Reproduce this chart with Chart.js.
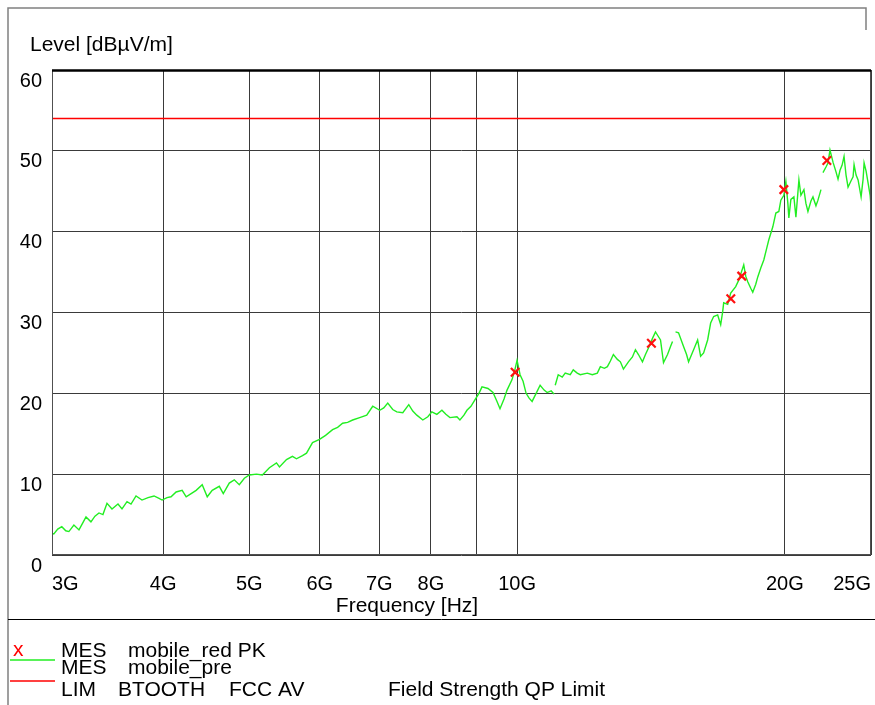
<!DOCTYPE html>
<html><head><meta charset="utf-8">
<script src="https://cdn.jsdelivr.net/npm/chart.js@4.4.1/dist/chart.umd.min.js"></script>
<style>html,body{margin:0;padding:0;background:#fff}#wrap{width:875px;height:705px;position:relative}</style>
</head><body><div id="wrap"><canvas id="c" width="875" height="705"></canvas></div>
<script>
// ---- data (frequency in GHz, level in dBµV/m) ----
const traceFreqGHz = [
2.99,3.014,3.045,3.077,3.109,3.134,3.175,3.217,3.25,3.276,3.318,3.353,3.388,3.423,3.459,3.504,3.559,3.596,3.643,3.681,
3.729,3.787,3.847,3.907,3.958,3.989,4.041,4.083,4.137,4.202,4.246,4.301,4.357,4.426,4.484,4.542,4.626,4.674,4.747,4.809,
4.872,4.936,5.0,5.093,5.172,5.267,5.364,5.406,5.505,5.591,5.649,5.738,5.798,5.889,5.997,6.091,6.203,6.284,6.366,6.449,
6.534,6.653,6.776,6.882,7.008,7.081,7.155,7.248,7.324,7.439,7.555,7.634,7.714,7.835,7.937,8.02,8.125,8.232,8.317,8.404,
8.558,8.625,8.715,8.783,8.875,8.966,9.061,9.132,9.275,9.396,9.494,9.568,9.668,9.744,9.871,9.948,10.0,10.078,10.157,10.237,
10.317,10.397,10.506,10.615,10.726,10.81,10.923,11.009,11.02,
11.038,11.124,11.24,11.328,11.476,11.566,11.686,11.778,11.994,12.151,12.31,12.406,12.536,12.634,12.733,12.832,12.966,13.067,13.17,13.341,
13.481,13.586,13.692,13.835,13.943,14.052,14.199,14.31,14.422,14.497,14.61,14.763,14.878,14.955,15.01,
15.072,15.19,15.388,15.509,15.589,15.794,15.959,16.083,16.209,16.378,16.506,16.636,16.809,16.941,17.029,17.073,17.251,17.386,17.613,17.751,
17.983,18.076,18.17,18.312,18.408,18.551,18.648,18.794,18.941,19.089,19.189,19.389,19.541,19.694,19.796,19.951,20.055,20.159,20.211,20.317,
20.476,20.583,20.744,20.852,21.015,21.124,21.234,21.401,21.512,21.68,21.793,21.963,22.02,
22.077,22.25,22.365,22.482,22.658,22.835,22.954,23.073,23.194,23.315,23.436,23.558,23.742,23.866,23.928,24.053,24.178,24.367,24.494,24.557,
24.685,24.814,24.943,25.0
];
const traceLevel = [
2.7,2.6,3.2,3.5,3.0,2.9,3.7,3.1,4.0,4.7,4.1,4.8,5.2,5.0,6.4,5.7,6.3,5.7,6.6,6.3,
7.3,6.8,7.1,7.3,7.0,6.8,7.1,7.2,7.8,8.0,7.2,7.6,8.0,8.7,7.2,8.0,8.5,7.6,8.9,9.3,
8.7,9.5,9.9,10.0,9.9,10.8,11.4,10.9,11.8,12.2,11.9,12.3,12.6,13.9,14.3,14.8,15.5,15.8,16.3,16.4,
16.7,17.0,17.3,18.4,17.9,18.2,18.8,18.0,17.7,17.6,18.6,17.8,17.3,16.7,17.1,17.7,17.4,17.9,17.4,17.0,
17.1,16.7,17.3,17.9,18.4,19.2,20.0,20.8,20.6,20.1,19.0,18.1,19.3,20.4,21.7,23.0,24.1,22.3,21.5,20.0,
19.4,19.0,20.0,21.0,20.4,20.1,20.3,19.9,null,
21.0,22.3,22.0,22.5,22.3,22.9,22.5,22.3,22.5,22.3,22.5,23.3,23.1,23.3,24.0,24.8,24.2,23.9,23.0,23.9,
24.5,25.4,24.8,23.9,24.8,25.6,26.8,27.6,27.0,26.6,23.8,24.8,25.8,26.4,null,
27.6,27.5,25.8,24.8,23.9,25.4,26.6,24.6,25.0,26.6,28.7,29.5,29.7,28.5,30.1,31.2,31.0,32.4,33.2,34.0,
35.9,34.5,33.8,33.0,32.5,33.5,34.4,35.5,36.5,38.0,39.0,40.6,42.3,42.5,43.9,44.5,46.2,43.5,41.7,44.0,
44.3,41.8,46.4,44.5,45.2,43.5,42.5,43.8,44.3,43.2,43.9,45.2,null,
47.3,48.0,48.5,50.1,48.6,47.4,46.5,47.6,48.2,49.3,47.0,45.5,46.3,46.8,48.3,47.0,46.4,44.3,46.5,48.5,
47.5,46.0,44.5,43.1
];
const peakFreqGHz = [9.95, 14.16, 17.39, 17.89, 19.95, 22.30];
const peakLevel   = [22.6, 26.2, 31.7, 34.5, 45.2, 48.8];
const limitFreqGHz = [3, 25];
const limitLevel   = [54, 54];
const xTickValues = [3, 4, 5, 6, 7, 8, 9, 10, 20, 25];
const xTickLabels = ['3G', '4G', '5G', '6G', '7G', '8G', '', '10G', '20G', '25G'];
const yTickValues = [0, 10, 20, 30, 40, 50, 60];
const yAxisTitle = 'Level [dBµV/m]';
const xAxisTitle = 'Frequency [Hz]';
const legendRows = [
  ['MES', 'mobile_red PK'],
  ['MES', 'mobile_pre'],
  ['LIM', 'BTOOTH', 'FCC AV', 'Field Strength QP Limit']
];

const FONT = '"Liberation Sans", Arial, sans-serif';
const toXY = (xs, ys) => xs.map((x, i) => ({x: x, y: ys[i]}));

const decor = {
  id: 'decor',
  beforeDraw(chart) {
    const ctx = chart.ctx;
    ctx.save();
    ctx.fillStyle = '#fff';
    ctx.fillRect(0, 0, chart.width, chart.height);
    ctx.restore();
  },
  afterDraw(chart) {
    const ctx = chart.ctx;
    const a = chart.chartArea;
    ctx.save();
    // outer frame
    ctx.strokeStyle = '#808080';
    ctx.lineWidth = 1.5;
    ctx.beginPath();
    ctx.moveTo(8, 705); ctx.lineTo(8, 8); ctx.lineTo(866, 8); ctx.lineTo(866, 30);
    ctx.stroke();
    ctx.strokeStyle = '#000';
    ctx.lineWidth = 1;
    ctx.beginPath();
    ctx.moveTo(8, 619.5); ctx.lineTo(875, 619.5);
    ctx.stroke();
    // plot frame
    ctx.strokeStyle = '#505050';
    ctx.lineWidth = 1;
    ctx.strokeRect(a.left + 0.5, a.top + 0.5, a.right - a.left - 1, a.bottom - a.top - 1);
    ctx.strokeStyle = '#000';
    ctx.lineWidth = 2.5;
    ctx.beginPath();
    ctx.moveTo(a.left, a.top + 0.5); ctx.lineTo(a.right, a.top + 0.5);
    ctx.stroke();
    // texts
    ctx.fillStyle = '#000';
    ctx.font = '21px ' + FONT;
    ctx.textBaseline = 'middle';
    ctx.textAlign = 'left';
    ctx.fillText(yAxisTitle, 30, 45);
    ctx.textAlign = 'center';
    ctx.fillText(xAxisTitle, 407, 606);
    // legend
    ctx.textAlign = 'left';
    const ys = [651, 668, 690];
    const cols = [[61, 128], [61, 128], [61, 118, 229, 388]];
    legendRows.forEach((row, r) => {
      row.forEach((t, k) => ctx.fillText(t, cols[r][k], ys[r]));
    });
    ctx.fillStyle = '#ff0000';
    ctx.fillText('x', 13, 650);
    ctx.lineWidth = 1.5;
    ctx.strokeStyle = '#22ee22';
    ctx.beginPath(); ctx.moveTo(10, 660); ctx.lineTo(55, 660); ctx.stroke();
    ctx.strokeStyle = '#ff0000';
    ctx.beginPath(); ctx.moveTo(10, 681); ctx.lineTo(55, 681); ctx.stroke();
    ctx.restore();
  }
};

new Chart(document.getElementById('c'), {
  type: 'line',
  data: {
    datasets: [
      { label: 'LIM BTOOTH FCC AV', data: toXY(limitFreqGHz, limitLevel), borderColor: '#ff0000', borderWidth: 1.3, pointRadius: 0, order: 3 },
      { label: 'MES mobile_pre', data: toXY(traceFreqGHz, traceLevel), borderColor: '#22ee22', borderWidth: 1.4, pointRadius: 0, spanGaps: false, tension: 0, order: 2 },
      { label: 'MES mobile_red PK', data: toXY(peakFreqGHz, peakLevel), showLine: false, pointStyle: 'crossRot', pointRadius: 6, borderColor: '#ff1010', borderWidth: 2.2, pointHoverRadius: 6, order: 1 }
    ]
  },
  options: {
    responsive: false, animation: false, devicePixelRatio: 1,
    layout: { autoPadding: false, padding: { left: 0, right: 4, top: 70, bottom: 85 } },
    plugins: { legend: { display: false }, tooltip: { enabled: false }, title: { display: false } },
    scales: {
      x: {
        type: 'logarithmic', min: 3, max: 25,
        afterBuildTicks: s => { s.ticks = xTickValues.map(v => ({ value: v })); },
        afterFit: s => { s.height = 65; s.paddingLeft = 0; s.paddingRight = 0; },
        grid: { color: '#3a3a3a', lineWidth: 1, drawTicks: false },
        border: { display: false },
        ticks: {
          autoSkip: false, maxRotation: 0, minRotation: 0, align: 'inner', padding: 17,
          color: '#000', font: { family: FONT, size: 20 },
          callback: (v, i) => xTickLabels[i]
        }
      },
      y: {
        min: 0, max: 60,
        afterBuildTicks: s => { s.ticks = yTickValues.map(v => ({ value: v })); },
        afterFit: s => { s.width = 52; s.paddingTop = 0; s.paddingBottom = 0; },
        grid: { color: '#3a3a3a', lineWidth: 1, drawTicks: false },
        border: { display: false },
        ticks: { padding: 10, labelOffset: 11, color: '#000', font: { family: FONT, size: 20 } }
      }
    }
  },
  plugins: [decor]
});
</script></body></html>
